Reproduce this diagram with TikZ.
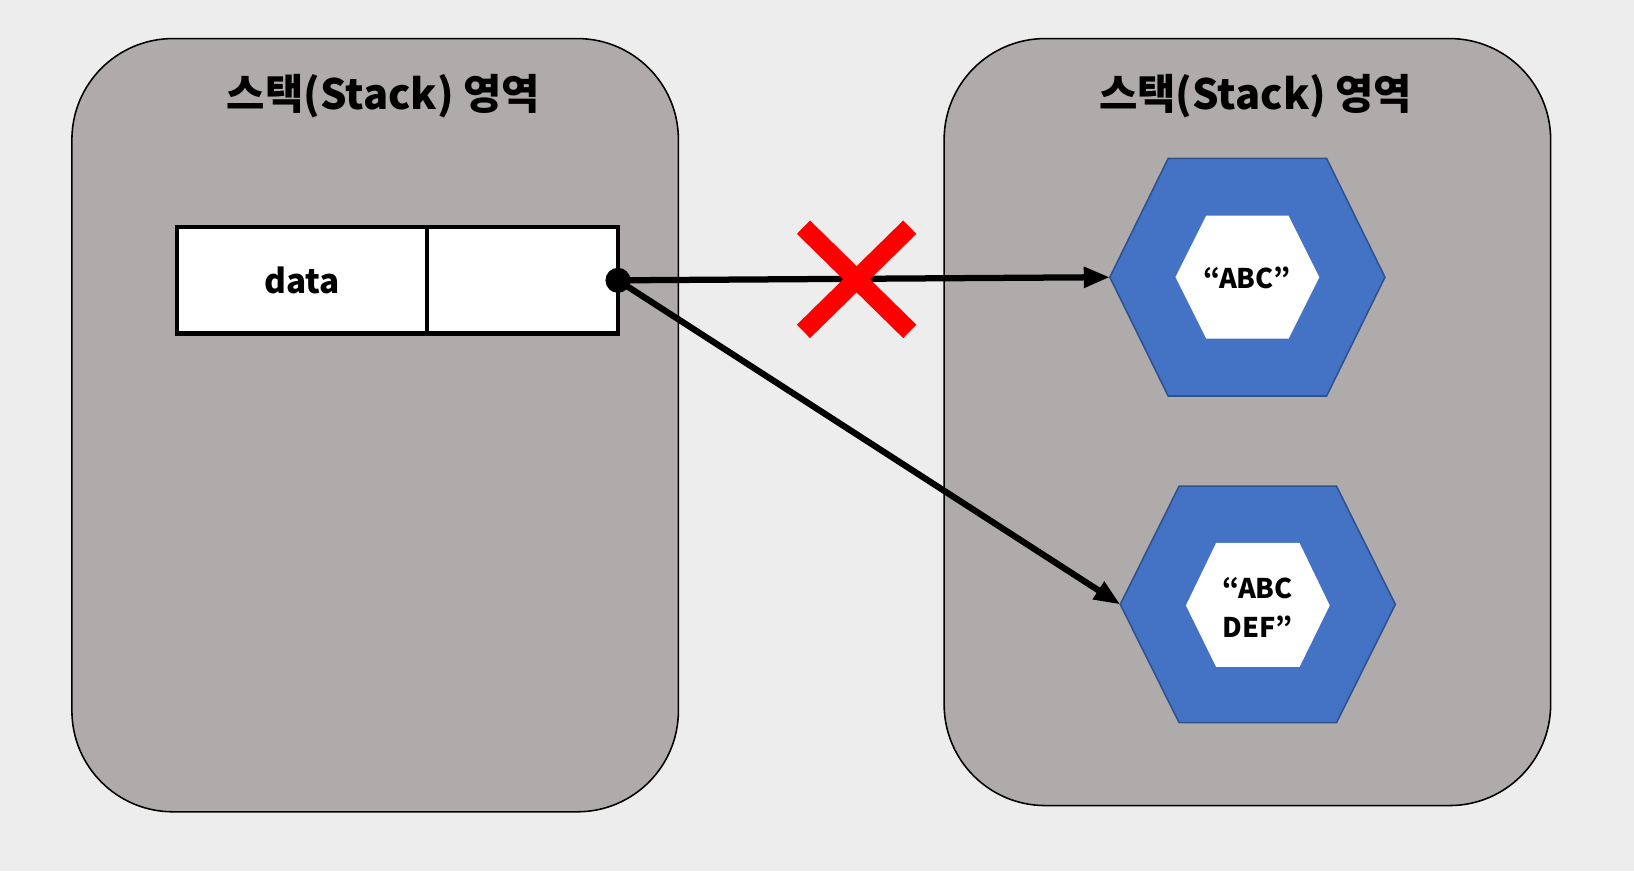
\documentclass[tikz,border=0pt]{standalone}
\usepackage{fontspec}
\setmainfont{Noto Sans CJK KR}
\usetikzlibrary{arrows.meta}
\definecolor{bgc}{HTML}{EDEDED}
\definecolor{panelc}{HTML}{AFABAB}
\definecolor{hexblue}{HTML}{4472C4}
\definecolor{hexedge}{HTML}{2F528F}
\tikzset{
  panel/.style={draw=black, line width=1.5pt, fill=panelc, rounded corners=97pt, minimum width=582pt, inner sep=0pt, outer sep=0pt},
  title/.style={font=\fontsize{40}{46}\selectfont\bfseries, inner sep=0pt},
  cell/.style={draw=black, line width=4pt, fill=white, minimum height=102pt, inner sep=0pt, outer sep=0pt, font=\fontsize{32}{36}\selectfont\bfseries},
  outerhex/.style={fill=hexblue, draw=hexedge, line width=1.5pt},
  innerhex/.style={fill=white},
  hextext/.style={inner sep=0pt, align=center, font=\fontsize{26}{38}\selectfont\bfseries},
  ptr/.style={line width=6pt, -{Triangle[length=25pt,width=19pt]}},
  cross/.style={draw=red, line width=18pt},
}
\begin{document}
\begin{tikzpicture}[x=1pt,y=-1pt]
\useasboundingbox (0,0) rectangle (1568,836);
\fill[bgc] (0,0) rectangle (1568,836);
% panels
\node[panel, minimum height=742pt] (lp) at (360,408) {};
\node[panel, minimum height=736pt] (rp) at (1197,405) {};
\node[title] (lt) at (368,92) {스택(Stack) 영역};
\node[title] (rt) at (1205,92) {스택(Stack) 영역};
% data box
\node[cell, minimum width=240pt] (dcell) at (290,269) {data};
\node[cell, minimum width=183pt] (pcell) at (501.5,269) {};
% hexagon 1
\begin{scope}[shift={(1197,266)}]
  \draw[outerhex] (-132,0) -- (-76,-114) -- (76,-114) -- (132,0) -- (76,114) -- (-76,114) -- cycle;
  \fill[innerhex] (-69,0) -- (-39.5,-59) -- (39.5,-59) -- (69,0) -- (39.5,59) -- (-39.5,59) -- cycle;
  \coordinate (hex1) at (-132,0);
  \node[hextext] (in1) at (0,1) {“ABC”};
\end{scope}
% hexagon 2
\begin{scope}[shift={(1207,580)}]
  \draw[outerhex] (-132,0) -- (-75.5,-113.5) -- (75.5,-113.5) -- (132,0) -- (75.5,113.5) -- (-75.5,113.5) -- cycle;
  \fill[innerhex] (-69,1) -- (-40,-59) -- (40,-59) -- (69,1) -- (40,60) -- (-40,60) -- cycle;
  \coordinate (hex2) at (-132,0);
  \node[hextext] (in2) at (0,3) {“ABC\\DEF”};
\end{scope}
% pointer dot
\coordinate (dot) at (593,269);
\draw[ptr] (dot) -- (hex1);
\draw[ptr] (dot) -- (hex2);
\node[circle, fill=black, minimum size=24pt, inner sep=0pt] (dotc) at (dot) {};
% red cross
\coordinate (xa) at (771,218);
\coordinate (xb) at (873,318);
\coordinate (xc) at (873,218);
\coordinate (xd) at (771,318);
\draw[cross] (xa) -- (xb);
\draw[cross] (xc) -- (xd);
\end{tikzpicture}
\end{document}
